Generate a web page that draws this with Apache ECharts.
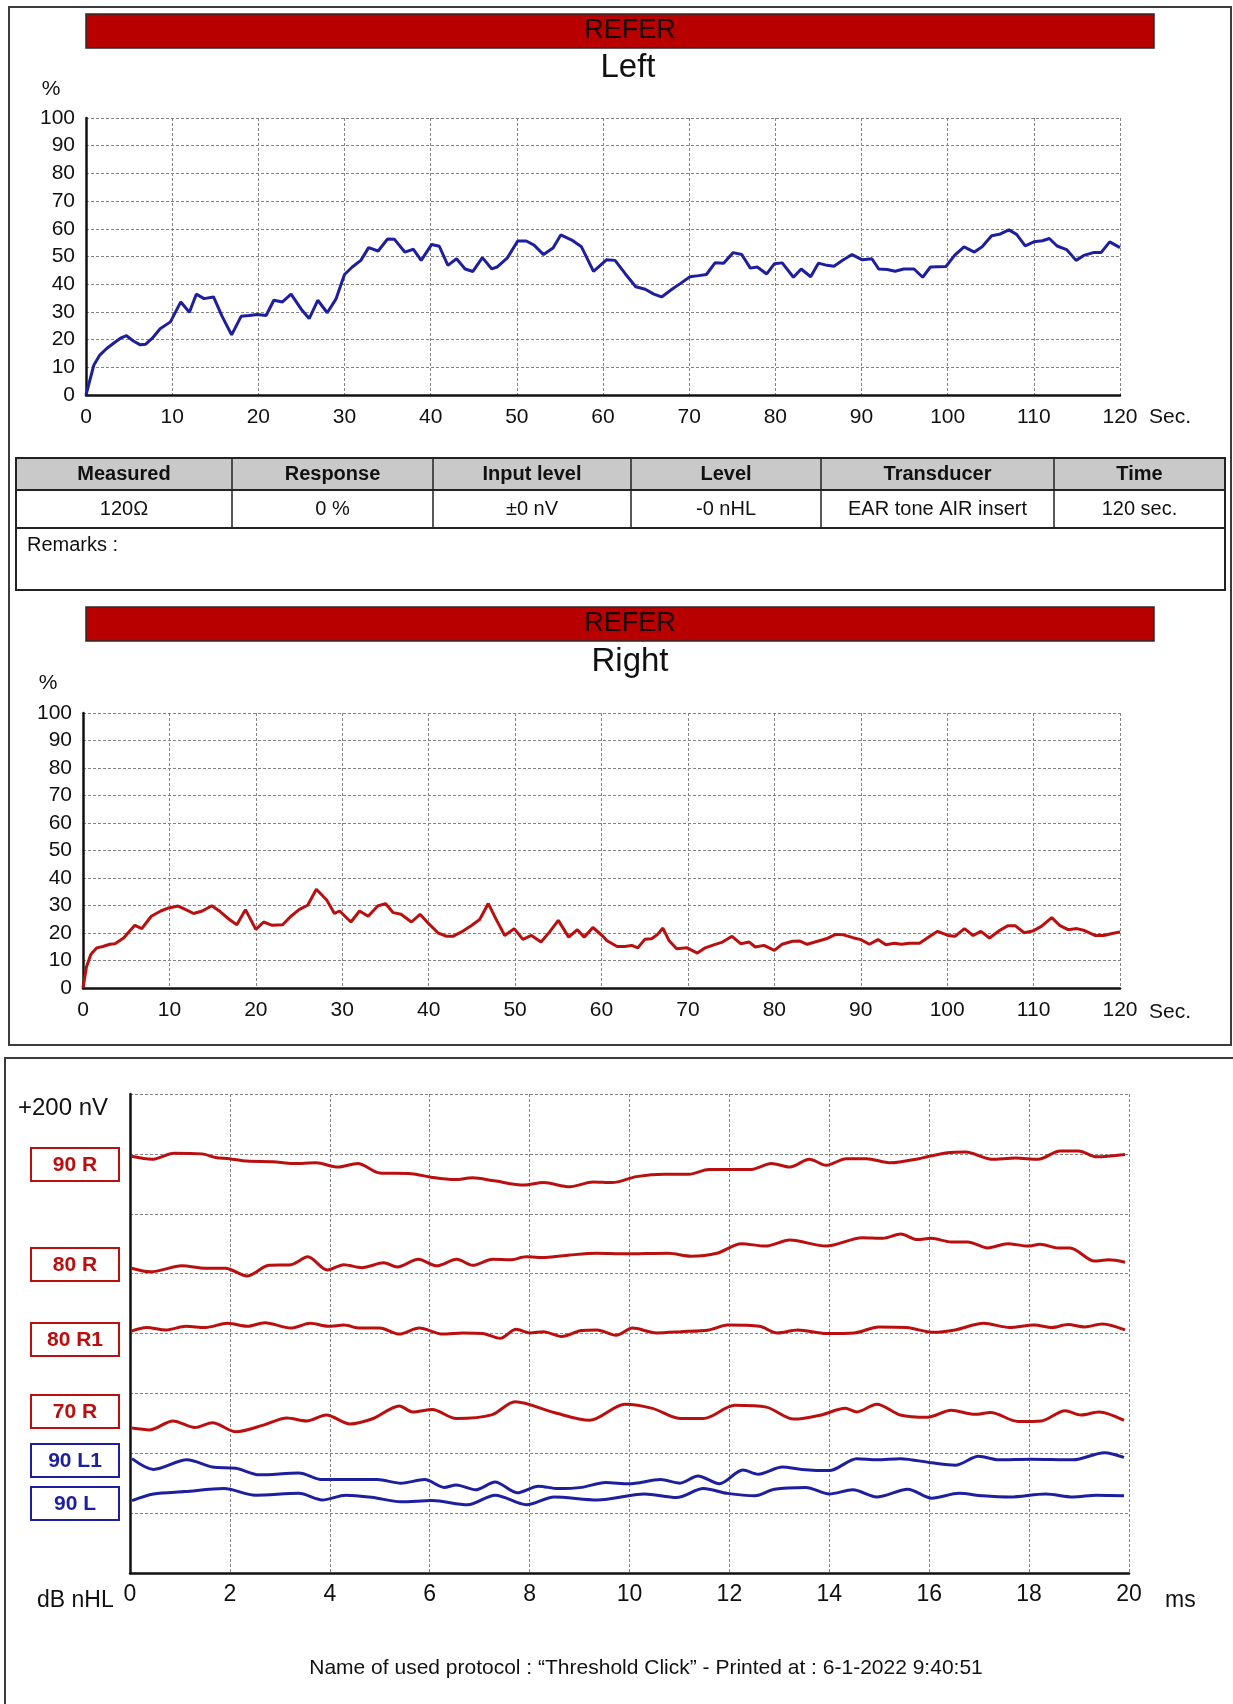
<!DOCTYPE html>
<html>
<head>
<meta charset="utf-8">
<script src="https://cdn.jsdelivr.net/npm/echarts@6/dist/echarts.min.js"></script>
<style>
  html, body { margin: 0; padding: 0; background: #ffffff; }
  #chart { width: 1233px; height: 1704px; }
</style>
</head>
<body>
<div id="chart"></div>
<script>
// ---- Screening response, left ear: [seconds, %] ----
const leftResponse = [
  [0,0],[0.9,10.7],[1.6,14.4],[2.4,16.8],[3.2,18.7],[4.0,20.5],[4.7,21.4],[5.5,19.5],[6.3,18.1],[6.9,18.3],
  [7.7,20.5],[8.6,23.9],[9.8,26.4],[11.0,33.6],[12.0,29.9],[12.8,36.4],[13.7,34.8],[14.8,35.4],[15.8,28.4],
  [16.9,21.7],[18.0,28.4],[18.9,28.7],[19.9,29.1],[20.9,28.7],[21.8,34.2],[22.8,33.6],[23.8,36.4],[25.0,30.9],
  [25.9,27.6],[26.9,34.2],[28.0,29.7],[29.0,34.6],[30.0,43.5],[30.9,46.2],[31.9,48.6],[32.8,53.2],[33.9,52.0],
  [35.0,56.3],[35.8,56.2],[37.0,51.6],[38.0,52.6],[38.9,48.6],[40.1,54.3],[41.0,53.7],[42.0,46.8],[43.0,49.2],
  [44.0,45.5],[44.9,44.6],[46.0,49.6],[47.1,45.5],[47.7,46.2],[48.9,49.5],[50.1,55.6],[51.1,55.6],[52.0,54.1],
  [53.1,50.7],[54.2,53.1],[55.1,57.8],[56.5,55.7],[57.5,53.5],[58.9,44.6],[60.4,48.8],[61.4,48.6],[62.6,43.7],
  [63.8,39.1],[64.9,38.2],[65.9,36.4],[66.8,35.4],[68.0,38.2],[69.0,40.3],[70.1,42.7],[71.1,43.1],[72.0,43.5],
  [73.0,47.7],[74.0,47.6],[75.1,51.4],[76.1,50.7],[77.1,45.8],[77.9,46.2],[79.0,43.7],[79.9,47.4],[80.8,47.7],
  [82.1,42.5],[83.0,45.5],[84.1,42.7],[85.0,47.6],[86.0,46.8],[86.8,46.5],[87.9,48.8],[88.9,50.7],[90.1,48.8],
  [91.2,49.2],[92.0,45.5],[93.0,45.3],[93.9,44.7],[94.9,45.5],[96.1,45.5],[97.1,42.5],[98.0,46.2],[99.8,46.4],
  [100.8,50.4],[101.9,53.5],[103.1,51.6],[104.0,53.5],[105.1,57.5],[106.0,58.0],[107.1,59.6],[108.0,58.0],
  [109.0,53.8],[110.0,55.3],[111.0,55.7],[111.8,56.5],[112.7,53.8],[113.8,52.5],[114.9,48.6],[115.8,50.4],
  [116.9,51.4],[117.8,51.4],[118.8,55.3],[120,53.2]
];

// ---- Screening response, right ear: [seconds, %] ----
const rightResponse = [
  [0,0],[0.4,7.6],[0.9,12.2],[1.6,14.6],[2.3,15.1],[3.1,15.9],[3.7,16.1],[4.7,18.2],[5.2,20.0],[6.0,22.8],
  [6.8,21.6],[7.9,26.1],[9.0,28.0],[9.9,29.1],[11.0,29.8],[11.9,28.5],[12.8,27.1],[13.8,28.0],[14.9,29.9],
  [15.9,27.7],[16.9,25.0],[17.8,23.0],[18.8,28.5],[20.0,21.3],[20.9,24.0],[21.9,22.8],[23.1,23.0],[24.0,25.9],
  [25.0,28.5],[26.0,30.1],[27.0,35.9],[28.2,32.0],[29.1,27.1],[29.7,28.0],[31.0,24.0],[32.0,28.0],[33.0,26.1],
  [34.1,29.8],[35.0,30.7],[35.9,27.4],[36.8,26.8],[38.0,24.0],[39.0,26.8],[40.0,23.4],[41.1,20.0],[42.1,18.8],
  [42.8,18.8],[43.8,20.4],[45.0,22.8],[45.9,24.9],[46.9,30.7],[47.9,24.4],[48.8,19.1],[49.9,21.6],[50.9,17.7],
  [51.9,19.1],[53.0,16.7],[54.0,20.4],[55.0,24.6],[56.2,18.5],[57.2,21.2],[58.0,18.5],[59.0,22.0],[60.1,19.0],
  [60.6,17.3],[61.8,15.1],[62.7,15.1],[63.5,15.5],[64.2,14.6],[65.0,17.7],[65.8,17.9],[66.5,19.5],[67.1,21.8],
  [67.8,17.3],[68.7,14.3],[69.9,14.6],[71.1,12.7],[72.0,14.6],[73.0,15.7],[74.0,16.7],[75.1,18.8],[76.1,16.1],
  [77.1,16.7],[77.8,14.9],[78.8,15.5],[80.0,13.7],[80.9,15.9],[82.1,17.0],[82.9,17.1],[83.8,15.9],[85.0,17.0],
  [86.0,17.9],[87.1,19.5],[87.9,19.4],[89.1,18.3],[90.0,17.6],[91.0,15.9],[92.0,17.6],[92.9,15.7],[93.9,16.3],
  [94.7,15.9],[95.6,16.3],[96.8,16.3],[98.0,18.8],[98.9,20.6],[100.1,19.1],[100.9,18.8],[102.0,21.6],[103.0,19.1],
  [103.9,20.6],[104.9,18.2],[106.1,21.0],[107.0,22.6],[107.9,22.6],[108.9,20.1],[109.9,20.7],[110.9,22.4],
  [112.1,25.6],[113.0,22.8],[114.0,21.2],[115.0,21.6],[115.9,20.9],[117.1,19.1],[118.1,19.1],[119.1,19.8],[120,20.4]
];

// ---- ABR traces: [ms, trace offset in grid divisions] ----
const abr90R = [
  [0.03,6.96],[0.44,6.91],[0.88,7.01],[1.44,7.00],[1.71,6.94],[1.99,6.92],[2.34,6.88],[2.86,6.87],[3.26,6.84],
  [3.73,6.85],[4.16,6.78],[4.56,6.84],[5.00,6.68],[5.63,6.67],[6.03,6.61],[6.50,6.57],[6.86,6.60],[7.29,6.55],
  [7.89,6.48],[8.28,6.52],[8.80,6.45],[9.27,6.53],[9.65,6.52],[10.14,6.62],[10.70,6.66],[11.19,6.66],[11.59,6.74],
  [12.44,6.74],[12.84,6.84],[13.21,6.78],[13.60,6.91],[13.94,6.81],[14.34,6.92],[14.74,6.92],[15.23,6.85],
  [15.79,6.92],[16.36,7.02],[16.73,7.03],[17.25,6.91],[17.73,6.93],[18.18,6.91],[18.62,7.05],[18.99,7.05],
  [19.35,6.95],[19.92,6.99]
];
const abr80R = [
  [0.03,5.09],[0.41,5.03],[1.04,5.13],[1.51,5.09],[1.91,5.09],[2.34,4.96],[2.78,5.14],[3.22,5.15],[3.56,5.28],
  [3.95,5.06],[4.28,5.15],[4.64,5.10],[5.08,5.18],[5.35,5.11],[5.77,5.24],[6.14,5.13],[6.54,5.24],[6.86,5.14],
  [7.26,5.24],[7.61,5.23],[7.93,5.28],[8.32,5.27],[8.80,5.31],[9.35,5.34],[9.89,5.33],[10.78,5.34],[11.23,5.29],
  [11.75,5.34],[12.24,5.50],[12.72,5.46],[13.21,5.56],[13.94,5.46],[14.66,5.60],[15.07,5.59],[15.43,5.66],
  [15.76,5.57],[16.04,5.59],[16.44,5.53],[16.77,5.53],[17.17,5.43],[17.57,5.50],[17.98,5.46],[18.22,5.49],
  [18.58,5.43],[18.82,5.43],[19.31,5.21],[19.59,5.23],[19.92,5.19]
];
const abr80R1 = [
  [0.03,4.04],[0.33,4.10],[0.72,4.06],[1.12,4.12],[1.51,4.10],[1.95,4.17],[2.35,4.12],[2.70,4.18],[3.22,4.09],
  [3.61,4.17],[3.97,4.12],[4.28,4.14],[4.60,4.09],[5.00,4.09],[5.39,3.99],[5.79,4.09],[6.26,3.99],[6.66,4.01],
  [7.06,4.00],[7.41,3.92],[7.73,4.07],[8.01,4.01],[8.28,4.03],[8.64,3.95],[9.04,4.05],[9.35,4.06],[9.73,3.97],
  [10.06,4.09],[10.54,4.01],[11.03,4.03],[11.59,4.06],[11.96,4.14],[12.60,4.12],[12.96,4.01],[13.37,4.06],
  [13.94,4.00],[14.50,4.01],[14.99,4.11],[15.55,4.10],[16.08,4.02],[16.52,4.06],[17.09,4.17],[17.61,4.10],
  [18.10,4.14],[18.46,4.10],[18.78,4.15],[19.11,4.11],[19.47,4.16],[19.92,4.06]
];
const abr70R = [
  [0.04,2.42],[0.39,2.39],[0.86,2.54],[1.30,2.43],[1.65,2.51],[2.12,2.36],[2.67,2.47],[3.14,2.59],[3.54,2.54],
  [3.93,2.64],[4.40,2.49],[4.87,2.58],[5.39,2.79],[5.66,2.69],[6.05,2.73],[6.53,2.58],[7.24,2.64],[7.71,2.86],
  [8.49,2.68],[9.20,2.55],[9.91,2.82],[10.46,2.75],[11.01,2.58],[11.48,2.58],[12.11,2.80],[12.74,2.77],
  [13.29,2.57],[13.84,2.64],[14.32,2.75],[14.55,2.69],[14.95,2.82],[15.42,2.64],[15.97,2.60],[16.44,2.72],
  [16.91,2.65],[17.23,2.68],[17.78,2.53],[18.25,2.54],[18.72,2.71],[19.04,2.64],[19.40,2.69],[19.90,2.55]
];
const abr90L1 = [
  [0.04,1.91],[0.47,1.73],[1.14,1.89],[1.65,1.77],[2.12,1.75],[2.59,1.64],[3.38,1.67],[3.85,1.56],[4.95,1.56],
  [5.42,1.50],[5.90,1.56],[6.29,1.43],[6.53,1.47],[6.92,1.39],[7.31,1.52],[7.75,1.34],[8.18,1.45],[8.57,1.41],
  [9.04,1.43],[9.52,1.51],[9.99,1.49],[10.62,1.56],[11.01,1.50],[11.37,1.62],[11.80,1.49],[12.27,1.72],
  [12.58,1.65],[13.06,1.77],[13.45,1.73],[14.00,1.71],[14.55,1.91],[14.95,1.89],[15.42,1.91],[16.05,1.84],
  [16.52,1.80],[16.99,1.95],[17.39,1.89],[18.02,1.90],[18.88,1.89],[19.51,2.01],[19.90,1.93]
];
const abr90L = [
  [0.04,1.21],[0.47,1.32],[1.10,1.36],[1.88,1.41],[2.51,1.30],[3.38,1.33],[3.85,1.22],[4.32,1.30],[4.87,1.26],
  [5.42,1.19],[6.05,1.21],[6.76,1.14],[7.31,1.30],[7.94,1.14],[8.49,1.27],[9.36,1.22],[10.30,1.32],[10.94,1.26],
  [11.48,1.41],[11.96,1.33],[12.51,1.29],[12.90,1.40],[13.53,1.43],[14.00,1.32],[14.47,1.39],[14.95,1.27],
  [15.57,1.40],[16.05,1.25],[16.60,1.33],[17.07,1.29],[17.62,1.27],[18.33,1.32],[18.88,1.27],[19.35,1.30],
  [19.90,1.29]
];

// ---- Text content ----
const tableHeaders = ['Measured', 'Response', 'Input level', 'Level', 'Transducer', 'Time'];
const tableValues = ['120Ω', '0 %', '±0 nV', '-0 nHL', 'EAR tone AIR insert', '120 sec.'];
const abrTraceLabels = ['90 R', '80 R', '80 R1', '70 R', '90 L1', '90 L'];
const footerText = 'Name of used protocol : “Threshold Click” - Printed at : 6-1-2022 9:40:51';

const FONT = '"Liberation Sans", Arial, Helvetica, sans-serif';
const RED = '#b90f0f';
const BLUE = '#1d1f9e';
const GRID_LINE = { show: true, lineStyle: { color: '#858585', width: 1, type: [3, 2] } };
const AXIS_LINE = { show: true, onZero: false, lineStyle: { color: '#111', width: 2.5 } };

function timeAxis(gridIndex) {
  return {
    gridIndex, type: 'value', min: 0, max: 120, interval: 10,
    axisLine: AXIS_LINE, axisTick: { show: false }, splitLine: GRID_LINE,
    axisLabel: { fontSize: 21, color: '#111', fontFamily: FONT, margin: 12 }
  };
}
function pctAxis(gridIndex) {
  return {
    gridIndex, type: 'value', min: 0, max: 100, interval: 10,
    axisLine: AXIS_LINE, axisTick: { show: false }, splitLine: GRID_LINE,
    axisLabel: { fontSize: 21, color: '#111', fontFamily: FONT, margin: 11 }
  };
}

// ---- Decoration: frames, banners, table, captions ----
function txt(text, x, y, size, opts) {
  opts = opts || {};
  return {
    type: 'text', z: 20,
    style: {
      text, x, y, fill: opts.fill || '#111',
      font: (opts.bold ? 'bold ' : '') + size + 'px ' + FONT,
      align: opts.align || 'center', verticalAlign: 'middle'
    }
  };
}
function rect(x, y, w, h, fill, stroke, lw) {
  return { type: 'rect', z: 5, shape: { x, y, width: w, height: h },
    style: { fill: fill || 'none', stroke: stroke || null, lineWidth: lw || 0 } };
}
function hline(x1, x2, y, lw) {
  return { type: 'line', z: 6, shape: { x1, y1: y, x2, y2: y }, style: { stroke: '#222', lineWidth: lw } };
}
function vline(x, y1, y2, lw) {
  return { type: 'line', z: 6, shape: { x1: x, y1, x2: x, y2 }, style: { stroke: '#222', lineWidth: lw } };
}

const graphics = [];
// upper panel
graphics.push(rect(9, 7, 1222, 1038, 'none', '#3c3c3c', 2));
graphics.push(rect(86, 14, 1068, 34, '#b80000', '#2a2a2a', 1.5));
graphics.push(txt('REFER', 630, 31, 27, { fill: '#1a0505' }));
graphics.push(txt('Left', 628, 68, 33));
graphics.push(txt('%', 51, 89, 21));
graphics.push(txt('Sec.', 1149, 417, 21, { align: 'left' }));

// measurement table
const colEdges = [16, 232, 433, 631, 821, 1054, 1225];
graphics.push(rect(16, 458, 1209, 32, '#c9c9c9'));
graphics.push(rect(16, 458, 1209, 132, 'none', '#222', 2));
graphics.push(hline(16, 1225, 490, 2));
graphics.push(hline(16, 1225, 528, 2));
for (let i = 1; i < colEdges.length - 1; i++) graphics.push(vline(colEdges[i], 458, 528, 1.5));
tableHeaders.forEach((h, i) => {
  const cx = (colEdges[i] + colEdges[i + 1]) / 2;
  graphics.push(txt(h, cx, 474, 20, { bold: true }));
  graphics.push(txt(tableValues[i], cx, 509, 20));
});
graphics.push(txt('Remarks :', 27, 545, 20, { align: 'left' }));

graphics.push(rect(86, 607, 1068, 34, '#b80000', '#2a2a2a', 1.5));
graphics.push(txt('REFER', 630, 624, 27, { fill: '#1a0505' }));
graphics.push(txt('Right', 630, 662, 33));
graphics.push(txt('%', 48, 683, 21));
graphics.push(txt('Sec.', 1149, 1012, 21, { align: 'left' }));

// lower panel (ABR)
graphics.push(rect(5, 1058, 1260, 700, 'none', '#3c3c3c', 2));
graphics.push(txt('+200 nV', 63, 1108, 24));
const labelBoxTops = [1148, 1248, 1323, 1395, 1444, 1487];
abrTraceLabels.forEach((lab, i) => {
  const col = lab.indexOf('L') >= 0 ? BLUE : RED;
  graphics.push(rect(31, labelBoxTops[i], 88, 33, '#fff', col, 2));
  graphics.push(txt(lab, 75, labelBoxTops[i] + 17, 21, { fill: col, bold: true }));
});
graphics.push(txt('dB nHL', 37, 1601, 23, { align: 'left' }));
graphics.push(txt('ms', 1165, 1601, 23, { align: 'left' }));
graphics.push(txt(footerText, 646, 1668, 21));

function traceSeries(data, color, xIdx, width, smooth) {
  return {
    type: 'line', xAxisIndex: xIdx, yAxisIndex: xIdx, data,
    showSymbol: false, smooth: smooth || false, clip: true,
    lineStyle: { color, width }, z: 10
  };
}

const option = {
  animation: false,
  backgroundColor: '#ffffff',
  textStyle: { fontFamily: FONT },
  grid: [
    { left: 86, top: 118, width: 1034, height: 277, outerBoundsMode: 'none', containLabel: false },
    { left: 83, top: 713, width: 1037, height: 275, outerBoundsMode: 'none', containLabel: false },
    { left: 130, top: 1094, width: 999, height: 479, outerBoundsMode: 'none', containLabel: false }
  ],
  xAxis: [
    timeAxis(0),
    timeAxis(1),
    {
      gridIndex: 2, type: 'value', min: 0, max: 20, interval: 2,
      axisLine: AXIS_LINE, axisTick: { show: false }, splitLine: GRID_LINE,
      axisLabel: { fontSize: 23, color: '#111', fontFamily: FONT, margin: 10 }
    }
  ],
  yAxis: [
    pctAxis(0),
    pctAxis(1),
    {
      gridIndex: 2, type: 'value', min: 0, max: 8, interval: 1,
      axisLine: AXIS_LINE, axisTick: { show: false }, splitLine: GRID_LINE,
      axisLabel: { show: false }
    }
  ],
  series: [
    traceSeries(leftResponse, BLUE, 0, 3),
    traceSeries(rightResponse, RED, 1, 3),
    traceSeries(abr90R, RED, 2, 3, 0.3),
    traceSeries(abr80R, RED, 2, 3, 0.3),
    traceSeries(abr80R1, RED, 2, 3, 0.3),
    traceSeries(abr70R, RED, 2, 3, 0.3),
    traceSeries(abr90L1, BLUE, 2, 3, 0.3),
    traceSeries(abr90L, BLUE, 2, 3, 0.3)
  ],
  graphic: { elements: graphics }
};

const chart = echarts.init(document.getElementById('chart'), null, { renderer: 'canvas' });
chart.setOption(option);
</script>
</body>
</html>
